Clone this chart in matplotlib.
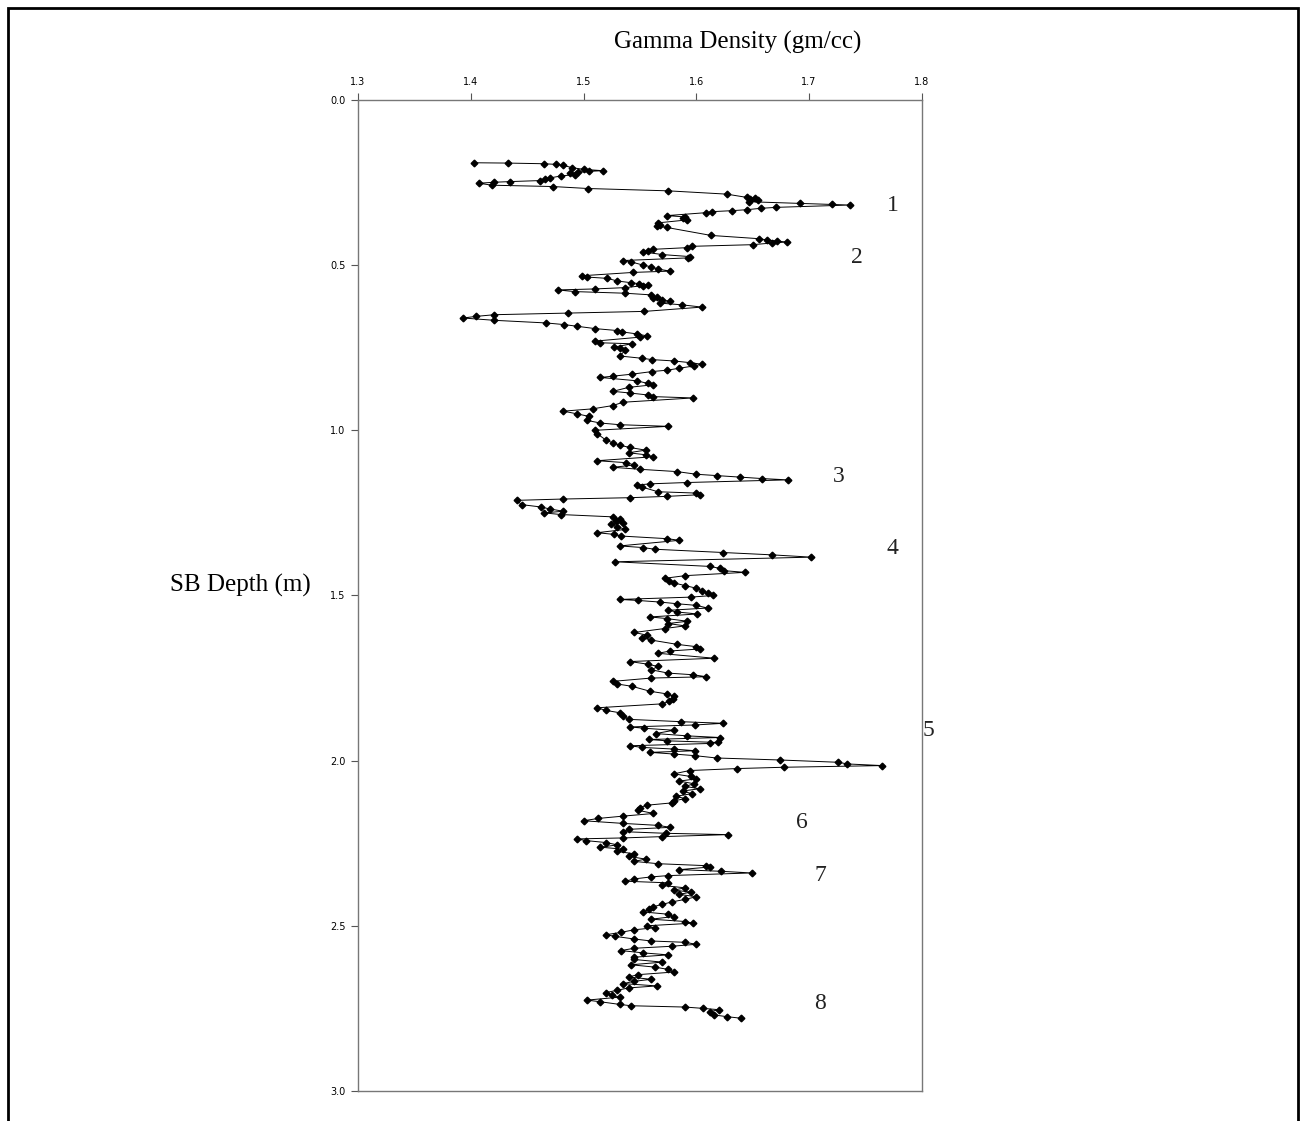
import numpy as np
import matplotlib
matplotlib.use('Agg')
import matplotlib.pyplot as plt
from matplotlib.patches import Rectangle

depth = [
    0.190, 0.191, 0.193, 0.195, 0.198, 0.205, 0.210, 0.214, 0.216, 0.219,
    0.222, 0.226, 0.230, 0.236, 0.240, 0.244, 0.247, 0.249, 0.252, 0.258,
    0.262, 0.268, 0.275, 0.285, 0.295, 0.298, 0.301, 0.304, 0.308, 0.313,
    0.316, 0.318, 0.325, 0.328, 0.332, 0.335, 0.338, 0.341, 0.350, 0.354,
    0.358, 0.363, 0.372, 0.378, 0.382, 0.386, 0.410, 0.420, 0.424, 0.427,
    0.430, 0.433, 0.438, 0.443, 0.447, 0.452, 0.456, 0.460, 0.468, 0.474,
    0.478, 0.486, 0.490, 0.500, 0.505, 0.512, 0.518, 0.522, 0.532, 0.536,
    0.540, 0.548, 0.553, 0.556, 0.560, 0.562, 0.568, 0.572, 0.575, 0.580,
    0.585, 0.590, 0.596, 0.600, 0.605, 0.610, 0.615, 0.620, 0.627, 0.640,
    0.645, 0.650, 0.655, 0.660, 0.667, 0.675, 0.680, 0.685, 0.692, 0.698,
    0.702, 0.708, 0.714, 0.718, 0.730, 0.735, 0.738, 0.748, 0.752, 0.758,
    0.775, 0.782, 0.786, 0.790, 0.795, 0.800, 0.805, 0.812, 0.818, 0.822,
    0.830, 0.836, 0.840, 0.850, 0.858, 0.862, 0.870, 0.882, 0.887, 0.893,
    0.898, 0.902, 0.915, 0.925, 0.935, 0.942, 0.950, 0.958, 0.970, 0.978,
    0.983, 0.988, 1.000, 1.010, 1.030, 1.038, 1.045, 1.052, 1.060, 1.068,
    1.074, 1.080, 1.092, 1.098, 1.105, 1.112, 1.118, 1.125, 1.133, 1.137,
    1.142, 1.146, 1.150, 1.158, 1.162, 1.166, 1.172, 1.186, 1.190, 1.195,
    1.200, 1.204, 1.208, 1.212, 1.225, 1.232, 1.238, 1.245, 1.250, 1.255,
    1.262, 1.268, 1.275, 1.280, 1.285, 1.292, 1.300, 1.310, 1.315, 1.320,
    1.328, 1.333, 1.350, 1.355, 1.360, 1.370, 1.377, 1.384, 1.398, 1.412,
    1.418, 1.425, 1.430, 1.440, 1.448, 1.455, 1.462, 1.470, 1.478, 1.485,
    1.492, 1.500, 1.505, 1.512, 1.515, 1.520, 1.525, 1.530, 1.538, 1.545,
    1.550, 1.556, 1.565, 1.570, 1.578, 1.585, 1.592, 1.600, 1.612, 1.620,
    1.628, 1.635, 1.648, 1.655, 1.662, 1.668, 1.675, 1.690, 1.700, 1.708,
    1.715, 1.725, 1.735, 1.740, 1.746, 1.750, 1.760, 1.768, 1.775, 1.790,
    1.798, 1.805, 1.812, 1.820, 1.828, 1.840, 1.848, 1.855, 1.865, 1.875,
    1.882, 1.887, 1.892, 1.898, 1.902, 1.908, 1.918, 1.925, 1.930, 1.936,
    1.940, 1.945, 1.948, 1.955, 1.960, 1.965, 1.970, 1.975, 1.980, 1.985,
    1.992, 1.998, 2.005, 2.010, 2.015, 2.020, 2.024, 2.030, 2.040, 2.048,
    2.055, 2.062, 2.070, 2.078, 2.085, 2.092, 2.100, 2.108, 2.115, 2.122,
    2.128, 2.135, 2.142, 2.150, 2.160, 2.168, 2.175, 2.182, 2.190, 2.196,
    2.202, 2.208, 2.215, 2.220, 2.224, 2.230, 2.234, 2.237, 2.242, 2.248,
    2.255, 2.262, 2.268, 2.275, 2.282, 2.290, 2.298, 2.305, 2.312, 2.318,
    2.322, 2.330, 2.335, 2.340, 2.348, 2.352, 2.358, 2.365, 2.370, 2.378,
    2.385, 2.392, 2.398, 2.405, 2.412, 2.420, 2.428, 2.435, 2.442, 2.450,
    2.458, 2.465, 2.472, 2.480, 2.487, 2.492, 2.500, 2.506, 2.512, 2.520,
    2.527, 2.532, 2.540, 2.546, 2.550, 2.556, 2.562, 2.568, 2.575, 2.582,
    2.588, 2.595, 2.602, 2.610, 2.618, 2.625, 2.632, 2.640, 2.648, 2.655,
    2.662, 2.668, 2.675, 2.682, 2.688, 2.695, 2.702, 2.710, 2.716, 2.725,
    2.730, 2.738, 2.742, 2.746, 2.750, 2.754, 2.760, 2.770, 2.775, 2.780,
]

density = [
    1.403, 1.433, 1.465, 1.476, 1.482, 1.490, 1.500, 1.517, 1.505, 1.495,
    1.488, 1.492, 1.480, 1.470, 1.466, 1.461, 1.435, 1.421, 1.407, 1.419,
    1.473, 1.504, 1.575, 1.627, 1.645, 1.652, 1.648, 1.655, 1.647, 1.692,
    1.720, 1.736, 1.671, 1.657, 1.645, 1.632, 1.614, 1.609, 1.574, 1.590,
    1.588, 1.592, 1.566, 1.568, 1.565, 1.574, 1.613, 1.656, 1.663, 1.672,
    1.680, 1.667, 1.650, 1.596, 1.592, 1.562, 1.557, 1.553, 1.570, 1.594,
    1.593, 1.535, 1.542, 1.553, 1.560, 1.566, 1.577, 1.544, 1.499, 1.503,
    1.521, 1.530, 1.542, 1.549, 1.557, 1.553, 1.537, 1.510, 1.477, 1.492,
    1.537, 1.560, 1.565, 1.562, 1.570, 1.577, 1.568, 1.587, 1.605, 1.554,
    1.486, 1.421, 1.405, 1.393, 1.421, 1.467, 1.483, 1.494, 1.510, 1.530,
    1.534, 1.547, 1.556, 1.550, 1.510, 1.515, 1.543, 1.527, 1.532, 1.537,
    1.532, 1.552, 1.561, 1.580, 1.594, 1.605, 1.598, 1.585, 1.574, 1.561,
    1.543, 1.526, 1.515, 1.547, 1.557, 1.562, 1.540, 1.526, 1.541, 1.557,
    1.562, 1.597, 1.535, 1.526, 1.508, 1.482, 1.494, 1.505, 1.503, 1.515,
    1.532, 1.575, 1.510, 1.512, 1.520, 1.526, 1.532, 1.541, 1.555, 1.540,
    1.555, 1.562, 1.512, 1.538, 1.545, 1.526, 1.550, 1.583, 1.600, 1.618,
    1.639, 1.658, 1.681, 1.592, 1.559, 1.547, 1.552, 1.566, 1.600, 1.603,
    1.574, 1.541, 1.482, 1.441, 1.445, 1.462, 1.470, 1.482, 1.465, 1.480,
    1.526, 1.532, 1.529, 1.535, 1.524, 1.530, 1.537, 1.512, 1.527, 1.533,
    1.574, 1.585, 1.532, 1.553, 1.563, 1.624, 1.667, 1.702, 1.528, 1.612,
    1.621, 1.625, 1.643, 1.590, 1.572, 1.576, 1.580, 1.590, 1.600, 1.605,
    1.610, 1.615, 1.595, 1.532, 1.548, 1.568, 1.583, 1.600, 1.610, 1.575,
    1.583, 1.601, 1.559, 1.574, 1.592, 1.575, 1.590, 1.572, 1.545, 1.556,
    1.552, 1.560, 1.583, 1.600, 1.603, 1.577, 1.566, 1.616, 1.541, 1.557,
    1.566, 1.560, 1.575, 1.597, 1.609, 1.560, 1.526, 1.530, 1.543, 1.559,
    1.574, 1.580, 1.579, 1.576, 1.570, 1.512, 1.520, 1.532, 1.535, 1.540,
    1.586, 1.624, 1.599, 1.541, 1.554, 1.580, 1.564, 1.592, 1.621, 1.558,
    1.574, 1.619, 1.612, 1.541, 1.552, 1.580, 1.599, 1.559, 1.580, 1.599,
    1.618, 1.674, 1.726, 1.734, 1.765, 1.678, 1.636, 1.594, 1.580, 1.595,
    1.600, 1.585, 1.598, 1.590, 1.603, 1.588, 1.596, 1.582, 1.590, 1.580,
    1.578, 1.556, 1.550, 1.548, 1.562, 1.535, 1.513, 1.500, 1.535, 1.566,
    1.577, 1.540, 1.535, 1.573, 1.628, 1.570, 1.535, 1.494, 1.502, 1.520,
    1.530, 1.515, 1.535, 1.530, 1.545, 1.540, 1.555, 1.545, 1.566, 1.609,
    1.612, 1.585, 1.622, 1.649, 1.575, 1.560, 1.545, 1.537, 1.575, 1.570,
    1.590, 1.580, 1.595, 1.585, 1.600, 1.590, 1.578, 1.570, 1.562, 1.558,
    1.553, 1.575, 1.580, 1.560, 1.590, 1.597, 1.556, 1.563, 1.545, 1.533,
    1.520, 1.528, 1.545, 1.560, 1.590, 1.600, 1.578, 1.545, 1.533, 1.553,
    1.575, 1.545, 1.545, 1.570, 1.542, 1.563, 1.575, 1.580, 1.548, 1.540,
    1.560, 1.545, 1.535, 1.565, 1.540, 1.530, 1.520, 1.525, 1.532, 1.503,
    1.515, 1.532, 1.542, 1.590, 1.606, 1.620, 1.612, 1.616, 1.627, 1.640,
]

# numbered horizons: label, density position, depth position
marks = ['1', '2', '3', '4', '5', '6', '7', '8']
mark_x = [1.774, 1.742, 1.726, 1.774, 1.806, 1.694, 1.710, 1.710]
mark_y = [0.318, 0.478, 1.141, 1.359, 1.910, 2.186, 2.349, 2.734]

serif = ['Liberation Serif', 'DejaVu Serif']

fig = plt.figure(figsize=(13.02, 11.21), dpi=100)
ax = fig.add_axes([0.275, 0.0268, 0.433, 0.884])

ax.plot(density, depth, color='black', lw=0.7, marker='D', ms=3.4,
        mfc='black', mec='black')

ax.set_xlim(1.3, 1.8)
ax.set_ylim(3.0, 0.0)
ax.set_xticks(np.arange(1.3, 1.81, 0.1))
ax.set_yticks(np.arange(0.0, 3.01, 0.5))
ax.xaxis.set_major_formatter(plt.FormatStrFormatter('%.1f'))
ax.yaxis.set_major_formatter(plt.FormatStrFormatter('%.1f'))
ax.xaxis.tick_top()
ax.tick_params(axis='x', top=True, bottom=False, direction='out', length=5,
               width=0.8, color='#555555', labelsize=7, pad=4)
ax.tick_params(axis='y', left=True, right=False, direction='out', length=5,
               width=0.8, color='#555555', labelsize=7, pad=4)
for s in ax.spines.values():
    s.set_color('#777777')
    s.set_linewidth(1.0)

for m, mx, my in zip(marks, mark_x, mark_y):
    ax.text(mx, my, m, fontsize=17, family=serif, ha='center', va='center',
            color='#222222', clip_on=False)

fig.text(738 / 1302, 1 - 42 / 1121, 'Gamma Density (gm/cc)', fontsize=18,
         family=serif, ha='center', va='center')
fig.text(240 / 1302, 1 - 585 / 1121, 'SB Depth (m)', fontsize=18,
         family=serif, ha='center', va='center')

# outer frame
fig.patches.append(Rectangle((8 / 1302, -0.05), 1290 / 1302, 1.05 - 8 / 1121,
                             transform=fig.transFigure, fill=False,
                             edgecolor='black', linewidth=2.0))

fig.savefig('out.png', dpi=100)
